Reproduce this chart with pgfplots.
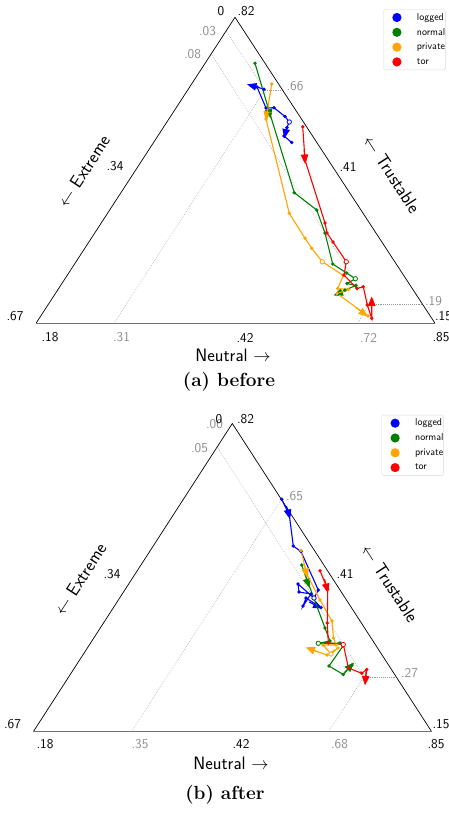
\documentclass[border=0pt]{standalone}
\usepackage{pgfplots}
\pgfplotsset{compat=1.18}
\usetikzlibrary{arrows.meta}
\definecolor{cblue}{RGB}{0,0,255}
\definecolor{cgreen}{RGB}{0,128,0}
\definecolor{corange}{RGB}{255,165,0}
\definecolor{cred}{RGB}{255,0,0}
\pgfplotsset{
  traj/.style={line width=1.1pt, mark=*, mark size=1.1pt},
  arr/.style={line width=1.1pt, -{Triangle[length=9.5pt,width=7.5pt]}},
  oc/.style={only marks, mark=*, mark size=2.2pt, mark options={fill=white, line width=0.8pt}},
  guide/.style={black!40, line width=0.5pt, dash pattern=on 0.6pt off 1.3pt},
  edge/.style={black, line width=0.7pt},
  base/.style={black!55, line width=1.5pt},
  panel/.style={x=1pt, y=1pt, y dir=reverse, xmin=0, xmax=448, axis lines=none, clip=false,
    legend cell align=left,
    legend image code/.code={\path[draw=none, fill=none] (0pt,-7.4pt) rectangle (33.4pt,7.4pt); \fill[##1, draw=none] (13.4pt,0pt) circle (4.6pt);},
    legend style={anchor=north west, draw=black!15, rounded corners=1.5pt,
      font=\fontsize{10}{11}\selectfont\sffamily, inner xsep=0pt, inner ysep=0.6pt,
      row sep=0pt, column sep=0pt, nodes={inner sep=0pt}}},
}
\tikzset{
  lbl/.style={font=\fontsize{13.5}{14}\selectfont\sffamily, inner sep=0pt},
  glbl/.style={font=\fontsize{13.5}{14}\selectfont\sffamily, text=black!45, inner sep=0pt},
  ttl/.style={font=\fontsize{18}{19}\selectfont\sffamily, inner sep=0pt},
  captxt/.style={font=\fontsize{19}{20}\selectfont\bfseries, inner sep=0pt},
}
\begin{document}
\begin{tikzpicture}
\useasboundingbox (0,0) rectangle (448pt,-814pt);
% ---------------- (a) before ----------------
\begin{axis}[panel, at={(0,0)}, anchor=north west, ymin=0, ymax=400,
  legend style={at={(axis description cs:0.8556,0.97675)}}]
\addlegendimage{cblue}\addlegendentry{logged}
\addlegendimage{cgreen}\addlegendentry{normal}
\addlegendimage{corange}\addlegendentry{private}
\addlegendimage{cred}\addlegendentry{tor}
% guides
\addplot[guide] coordinates {(226.1,31) (265,89.8)};
\addplot[guide] coordinates {(265,89.8) (282.8,89.8)};
\addplot[guide] coordinates {(265,89.8) (114,323.3)};
\addplot[guide] coordinates {(211.2,53.8) (370,304)};
\addplot[guide] coordinates {(370,304) (422.4,304)};
\addplot[guide] coordinates {(370,304) (357.5,323.3)};
% triangle
\addplot[edge] coordinates {(36,323.3) (235,17.3) (435,323.3)};
\addplot[base] coordinates {(36,323.3) (435,323.3)};
% logged
\addplot[cblue, traj] coordinates {(264,89.3) (257,87) (266,108) (274,107.7) (285,116.5) (289.3,122) (287,127.5) (284,136) (291.7,142.5)};
\addplot[cblue, arr] coordinates {(259,87.6) (247,84.3)};
\addplot[cblue, arr] coordinates {(286.6,127) (284.3,138.5)};
\addplot[cblue, oc] coordinates {(289.3,122)};
% normal
\addplot[cgreen, traj] coordinates {(255,63.3) (270,114) (294.3,192.7) (316.7,210) (325,233) (332.7,264) (346.7,273) (355.3,278.7) (347,283.5) (356,285.5) (345,290) (338,294)};
\addplot[cgreen, arr] coordinates {(267.5,105) (270.8,118.5)};
\addplot[cgreen, arr] coordinates {(346,290.5) (333.5,295.5)};
\addplot[cgreen, oc] coordinates {(355.3,278.7)};
% private
\addplot[corange, traj] coordinates {(271.7,84) (266,119) (289.3,213.3) (305,238.3) (311.7,248.3) (322.3,261.7) (343.3,275.5) (337.7,288.5) (348.5,289.5) (337,293.5) (368,316)};
\addplot[corange, arr] coordinates {(268,107) (266,121)};
\addplot[corange, arr] coordinates {(356,307.5) (368,316.5)};
\addplot[corange, oc] coordinates {(322.3,261.7)};
% tor
\addplot[cred, traj] coordinates {(302.7,126.7) (305,160) (325,223) (327,233) (333,242) (346.3,261.7) (344,275) (357,288.5) (363.3,286.7) (367.3,305) (371.7,318.3) (371.7,300)};
\addplot[cred, arr] coordinates {(304.2,150) (305.2,164)};
\addplot[cred, arr] coordinates {(371.7,310) (371.7,296.5)};
\addplot[cred, oc] coordinates {(346.3,261.7)};
% labels
\node[lbl] at (axis cs:221,11.5) {0};
\node[lbl] at (axis cs:246,11.5) {.82};
\node[glbl] at (axis cs:207.5,31) {.03};
\node[glbl] at (axis cs:192.5,54.5) {.08};
\node[glbl] at (axis cs:295,86) {.66};
\node[lbl] at (axis cs:115,166.5) {.34};
\node[lbl] at (axis cs:348,166.5) {.41};
\node[lbl] at (axis cs:15,316.5) {.67};
\node[lbl] at (axis cs:443.5,316.5) {.15};
\node[glbl] at (axis cs:433.5,301) {.19};
\node[lbl] at (axis cs:50,337.5) {.18};
\node[glbl] at (axis cs:121.5,337.5) {.31};
\node[lbl] at (axis cs:245,337.5) {.42};
\node[glbl] at (axis cs:368.5,337.5) {.72};
\node[lbl] at (axis cs:441,337.5) {.85};
\node[ttl] at (axis cs:233,355.5) {Neutral $\rightarrow$};
\node[ttl, rotate=57] at (axis cs:83.5,171) {$\leftarrow$ Extreme};
\node[ttl, rotate=-57] at (axis cs:392,174) {$\leftarrow$ Trustable};
\node[captxt] at (axis cs:229,382) {(a) before};
\end{axis}
% ---------------- (b) after ----------------
\begin{axis}[panel, at={(0,-400pt)}, anchor=north west, ymin=400, ymax=814,
  legend style={at={(axis description cs:0.8516,0.9638)}}]
\addlegendimage{cblue}\addlegendentry{logged}
\addlegendimage{cgreen}\addlegendentry{normal}
\addlegendimage{corange}\addlegendentry{private}
\addlegendimage{cred}\addlegendentry{tor}
% guides
\addplot[guide] coordinates {(217.4,447) (364,677)};
\addplot[guide] coordinates {(364,677) (396.3,677)};
\addplot[guide] coordinates {(364,677) (328.6,731.7)};
\addplot[guide] coordinates {(281.5,499.3) (131.4,731.7)};
% triangle
\addplot[edge] coordinates {(33.3,731.7) (232.3,423.5) (431.7,731.7)};
\addplot[base] coordinates {(33.3,731.7) (431.7,731.7)};
% logged
\addplot[cblue, traj] coordinates {(281.7,499.3) (289.3,515) (293.3,546) (301,551.5) (318.3,590) (314,598) (298,584) (299,592) (311,594) (303,606) (306,598) (321,607.5)};
\addplot[cblue, arr] coordinates {(286.5,506) (290,519)};
\addplot[cblue, arr] coordinates {(309,602) (322.5,608.5)};
\addplot[cblue, oc] coordinates {(314,598)};
% normal
\addplot[cgreen, traj] coordinates {(301.7,565) (308.3,583.3) (325,628) (330,641) (318.3,643.3) (340,643) (343,646) (329,666) (343.3,674.5) (352,665)};
\addplot[cgreen, arr] coordinates {(305,574) (309.5,588)};
\addplot[cgreen, arr] coordinates {(344.5,672.5) (354,662.5)};
\addplot[cgreen, oc] coordinates {(318.3,643.3)};
% private
\addplot[corange, traj] coordinates {(301,550.5) (306.7,574) (320,600) (332,621) (333.5,638) (336,645) (323,645) (331,654) (338,648) (327,655) (310,649)};
\addplot[corange, arr] coordinates {(304,564) (307.5,578)};
\addplot[corange, arr] coordinates {(318,652) (305.5,647.3)};
\addplot[corange, oc] coordinates {(331,654)};
% tor
\addplot[cred, traj] coordinates {(320,570.7) (327.7,589.3) (327.3,623) (328.3,643) (343.3,644.5) (348.5,668) (361.7,673.3) (366.7,669.5) (365.5,680)};
\addplot[cred, arr] coordinates {(324.5,579) (328,593)};
\addplot[cred, arr] coordinates {(366,672) (365,685.5)};
\addplot[cred, oc] coordinates {(343.3,644.5)};
% labels
\node[glbl] at (axis cs:214.5,424.5) {.00};
\node[lbl] at (axis cs:219,419.5) {0};
\node[lbl] at (axis cs:245.5,419.5) {.82};
\node[glbl] at (axis cs:199.5,448) {.05};
\node[glbl] at (axis cs:294.5,496) {.65};
\node[lbl] at (axis cs:112,574) {.34};
\node[lbl] at (axis cs:345,574) {.41};
\node[lbl] at (axis cs:12.5,724) {.67};
\node[lbl] at (axis cs:441,724) {.15};
\node[glbl] at (axis cs:409.5,673) {.27};
\node[lbl] at (axis cs:45,744) {.18};
\node[glbl] at (axis cs:140,744) {.35};
\node[lbl] at (axis cs:241,744) {.42};
\node[glbl] at (axis cs:339.5,744) {.68};
\node[lbl] at (axis cs:436,744) {.85};
\node[ttl] at (axis cs:231,763.5) {Neutral $\rightarrow$};
\node[ttl, rotate=57] at (axis cs:80,579) {$\leftarrow$ Extreme};
\node[ttl, rotate=-57] at (axis cs:390,583.3) {$\leftarrow$ Trustable};
\node[captxt] at (axis cs:225,795) {(b) after};
\end{axis}
\end{tikzpicture}
\end{document}
